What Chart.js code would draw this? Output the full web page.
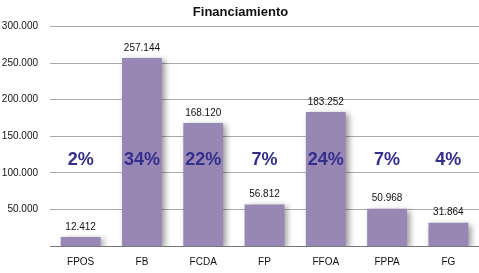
<!DOCTYPE html>
<html><head><meta charset="utf-8">
<script src="https://cdn.jsdelivr.net/npm/chart.js@4/dist/chart.umd.min.js"></script>
<style>html,body{margin:0;padding:0;background:#fff}#w{width:479px;height:273px}</style>
</head><body><div id="w"><canvas id="c"></canvas></div>
<script>
const categories = ["FPOS","FB","FCDA","FP","FFOA","FPPA","FG"];
const values = [12412, 257144, 168120, 56812, 183252, 50968, 31864];
const percents = ["2%","34%","22%","7%","24%","7%","4%"];
const yTicks = [50000,100000,150000,200000,250000,300000];
const title = "Financiamiento";

function fmt(v){return String(v).replace(/\B(?=(\d{3})+(?!\d))/g,".");}

const labelsPlugin = {
  id:'lbl',
  beforeDatasetDraw(chart){
    const ctx=chart.ctx; ctx.save();
    ctx.shadowColor='rgba(0,0,0,0.4)'; ctx.shadowBlur=6; ctx.shadowOffsetX=3; ctx.shadowOffsetY=2;
  },
  afterDatasetDraw(chart){ chart.ctx.restore(); },
  afterDraw(chart){
    const ctx=chart.ctx, meta=chart.getDatasetMeta(0), y=chart.scales.y;
    ctx.save();
    ctx.textAlign='center';
    ctx.fillStyle='#111';
    ctx.font='10px "Liberation Sans", Arial, sans-serif';
    ctx.textBaseline='bottom';
    meta.data.forEach((b,i)=>{ ctx.fillText(fmt(values[i]), b.x, b.y-5); });
    ctx.fillStyle='#352f8c';
    ctx.font='bold 18px "Liberation Sans", Arial, sans-serif';
    ctx.textBaseline='middle';
    const py=y.getPixelForValue(117500);
    meta.data.forEach((b,i)=>{ ctx.fillText(percents[i], b.x, py); });
    ctx.restore();
  }
};

new Chart(document.getElementById('c'),{
  type:'bar',
  data:{labels:categories,datasets:[{data:values,backgroundColor:'#9787b5',barPercentage:0.65,categoryPercentage:1}]},
  options:{
    responsive:true,maintainAspectRatio:false,animation:false,
    layout:{padding:{top:0,right:-2,bottom:0,left:0}},
    plugins:{legend:{display:false},tooltip:{enabled:false},
      title:{display:true,text:title,color:'#111',font:{family:'"Liberation Sans", Arial, sans-serif',size:13,weight:'bold'},padding:{top:5,bottom:6}}},
    scales:{
      x:{grid:{display:false},border:{display:true,color:'#777',width:1},afterFit(s){s.height=27;},
        ticks:{color:'#111',font:{family:'"Liberation Sans", Arial, sans-serif',size:10},padding:2}},
      y:{min:0,max:300000,afterFit(s){s.width=50;},
        afterBuildTicks(s){s.ticks=yTicks.map(v=>({value:v}));},
        border:{display:false},
        grid:{color:'#aaa',lineWidth:1,drawTicks:false},
        ticks:{color:'#111',padding:12,font:{family:'"Liberation Sans", Arial, sans-serif',size:10},callback:v=>fmt(v)}}
    }
  },
  plugins:[labelsPlugin]
});
</script></body></html>
